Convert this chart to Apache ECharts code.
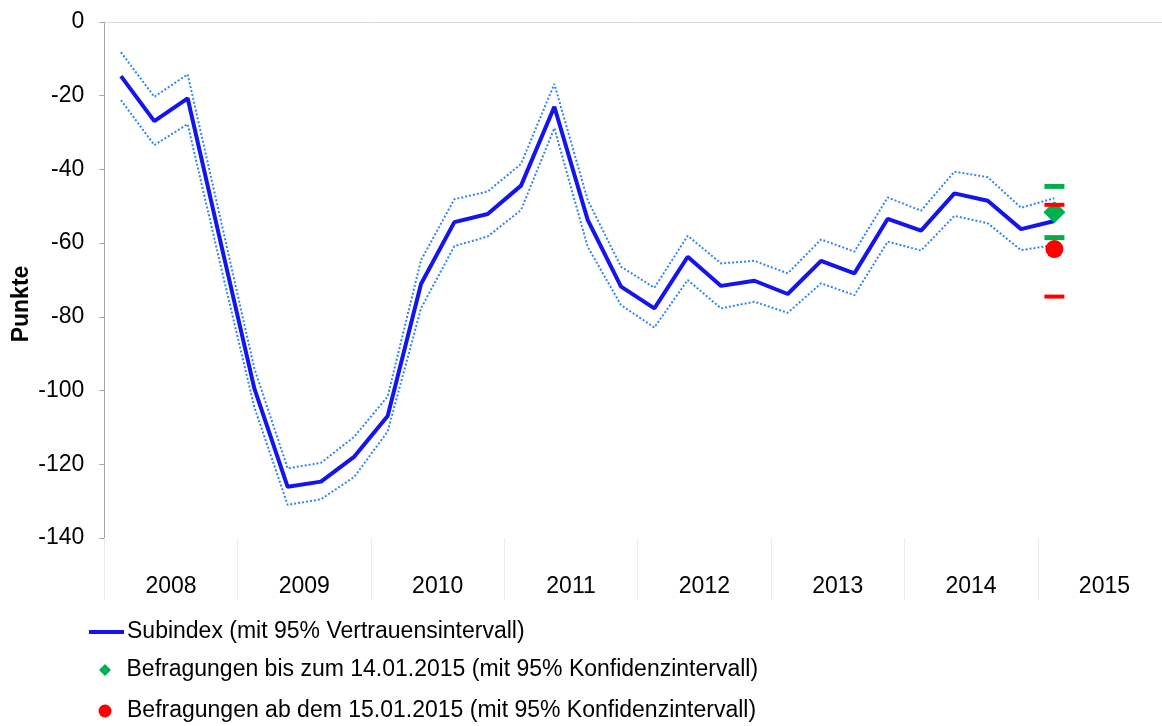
<!DOCTYPE html>
<html>
<head>
<meta charset="utf-8">
<script src="https://cdn.jsdelivr.net/npm/echarts@6/dist/echarts.min.js"></script>
<style>
html,body{margin:0;padding:0;background:#fff;}
#chart{width:1162px;height:726px;}
</style>
</head>
<body>
<div id="chart"></div>
<script>
// ---- data ----
const years = ['2008','2009','2010','2011','2012','2013','2014','2015'];
const quarters = [];
years.forEach(y => { for (let q = 1; q <= 4; q++) quarters.push(y + ' Q' + q); });

const subindex = [-14.7, -26.9, -20.7, -60.2, -99.4, -126.1, -124.7, -117.9, -106.9, -71.1, -54.3, -52.1, -44.4, -23.0, -53.7, -71.8, -77.7, -63.7, -71.6, -70.2, -73.8, -64.8, -68.2, -53.4, -56.6, -46.5, -48.5, -56.2, -54.0];
const upperCI = [-8.2, -20.3, -14.2, -54.0, -94.0, -121.1, -119.6, -112.5, -101.6, -64.6, -48.1, -46.0, -38.5, -16.8, -48.3, -66.4, -72.1, -58.0, -65.5, -64.8, -68.2, -59.0, -62.3, -47.6, -51.2, -40.6, -42.1, -50.4, -47.8];
const lowerCI = [-21.2, -33.4, -27.7, -66.5, -104.5, -131.0, -129.5, -123.4, -111.1, -77.7, -60.8, -58.2, -51.0, -28.8, -61.0, -76.8, -82.9, -70.0, -77.7, -75.9, -78.9, -70.9, -74.1, -59.6, -62.0, -52.6, -54.6, -61.9, -60.5];

const surveyQuarter = '2015 Q1';
const befragungBis = -51.6;      // Befragungen bis zum 14.01.2015
const befragungBisCI = [-58.5, -44.6];
const befragungAb = -61.6;       // Befragungen ab dem 15.01.2015
const befragungAbCI = [-74.5, -49.6];

const yTicks = { min: -140, max: 0, interval: 20 };

const nameSub = 'Subindex (mit 95% Vertrauensintervall)';
const nameBis = 'Befragungen bis zum 14.01.2015 (mit 95% Konfidenzintervall)';
const nameAb = 'Befragungen ab dem 15.01.2015 (mit 95% Konfidenzintervall)';

// ---- chart ----
const FONT = '"Liberation Sans", Arial, sans-serif';
const chart = echarts.init(document.getElementById('chart'), null, { renderer: 'canvas' });

const legendText = { fontFamily: FONT, fontSize: 23, color: '#000' };

chart.setOption({
  animation: false,
  backgroundColor: '#fff',
  grid: { left: 104.3, width: 1066.8, top: 22, bottom: 188, containLabel: false, outerBoundsMode: 'none' },
  xAxis: [
    {
      type: 'category', data: years, position: 'bottom', boundaryGap: true,
      axisLine: { show: false, onZero: false },
      axisTick: { show: true, length: 62, interval: 0, lineStyle: { color: '#ebebeb', width: 1 } },
      axisLabel: { margin: 37, interval: 0, fontFamily: FONT, fontSize: 23, color: '#000' },
      splitLine: { show: false }
    },
    {
      type: 'category', data: quarters, position: 'top', boundaryGap: true,
      axisLine: { show: true, onZero: false, lineStyle: { color: '#d9d9d9', width: 1 } },
      axisTick: { show: false }, axisLabel: { show: false }, splitLine: { show: false }
    }
  ],
  yAxis: {
    type: 'value', min: yTicks.min, max: yTicks.max, interval: yTicks.interval,
    axisLine: { show: true, onZero: false, lineStyle: { color: '#a6a6a6', width: 1 } },
    axisTick: { show: true, length: 5, lineStyle: { color: '#a6a6a6' } },
    axisLabel: { margin: 20, fontFamily: FONT, fontSize: 23, color: '#000' },
    splitLine: { show: false }
  },
  legend: [
    { orient: 'vertical', left: 89, top: 620.5, padding: 0, selectedMode: false,
      itemWidth: 35, itemHeight: 4, icon: 'rect', data: [nameSub],
      textStyle: Object.assign({}, legendText, { padding: [0, 0, 0, -2] }) },
    { orient: 'vertical', left: 99, top: 658.5, padding: 0, selectedMode: false,
      itemWidth: 12, itemHeight: 12, icon: 'diamond', data: [nameBis],
      textStyle: Object.assign({}, legendText, { padding: [0, 0, 0, 10.5] }) },
    { orient: 'vertical', left: 98.5, top: 699.5, padding: 0, selectedMode: false,
      itemWidth: 13, itemHeight: 13, icon: 'circle', data: [nameAb],
      textStyle: Object.assign({}, legendText, { padding: [0, 0, 0, 10.5] }) }
  ],
  graphic: [{
    type: 'text', x: 22, y: 304, rotation: Math.PI / 2,
    style: { text: 'Punkte', fontFamily: FONT, fontSize: 23, fontWeight: 'bold', fill: '#000',
             align: 'center', verticalAlign: 'middle' }
  }],
  series: [
    {
      name: 'Obere Grenze', type: 'line', xAxisIndex: 1, data: upperCI,
      showSymbol: false, symbol: 'none',
      lineStyle: { color: '#2f86f6', width: 2, type: [2, 2] }, z: 2
    },
    {
      name: 'Untere Grenze', type: 'line', xAxisIndex: 1, data: lowerCI,
      showSymbol: false, symbol: 'none',
      lineStyle: { color: '#2f86f6', width: 2, type: [2, 2] }, z: 2
    },
    {
      name: nameSub, type: 'line', xAxisIndex: 1, data: subindex,
      showSymbol: false, symbol: 'none', itemStyle: { color: '#1414ee' },
      lineStyle: { color: '#1414ee', width: 4 }, z: 3
    },
    {
      name: nameBis, type: 'scatter', xAxisIndex: 1,
      data: [[surveyQuarter, befragungBis]],
      symbol: 'diamond', symbolSize: 22, itemStyle: { color: '#00b050', opacity: 1 }, z: 4
    },
    {
      name: 'KI bis', type: 'scatter', xAxisIndex: 1,
      data: befragungBisCI.map(v => [surveyQuarter, v]),
      symbol: 'rect', symbolSize: [20, 5], itemStyle: { color: '#00b050', opacity: 1 }, z: 5
    },
    {
      name: 'KI ab', type: 'scatter', xAxisIndex: 1,
      data: befragungAbCI.map(v => [surveyQuarter, v]),
      symbol: 'rect', symbolSize: [20, 4], itemStyle: { color: '#ff0000', opacity: 1 }, z: 6
    },
    {
      name: nameAb, type: 'scatter', xAxisIndex: 1,
      data: [[surveyQuarter, befragungAb]],
      symbol: 'circle', symbolSize: 18, itemStyle: { color: '#ff0000', opacity: 1 }, z: 6
    }
  ]
});
</script>
</body>
</html>
